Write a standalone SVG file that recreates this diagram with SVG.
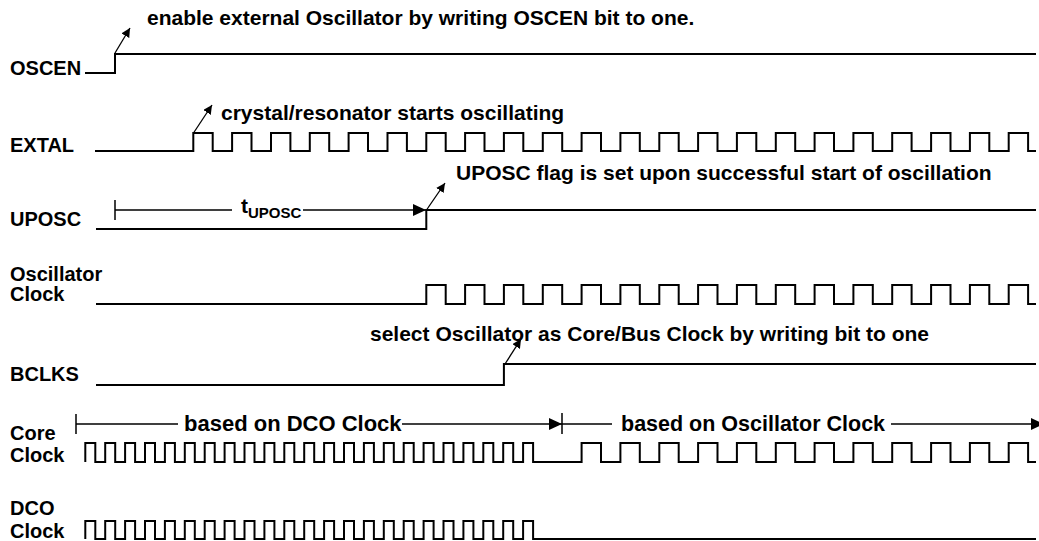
<svg xmlns="http://www.w3.org/2000/svg" width="1039" height="541" viewBox="0 0 1039 541">
<style>
text{font-family:"Liberation Sans",Arial,sans-serif;font-weight:bold;fill:#000}
.lbl{font-size:20px}
.ann{font-size:21px}
.sub{font-size:15px}
.wave{fill:none;stroke:#000;stroke-width:2}
.dim{fill:none;stroke:#000;stroke-width:1.5}
.call{fill:none;stroke:#000;stroke-width:1.3}
</style>
<defs>
<marker id="big" markerUnits="userSpaceOnUse" markerWidth="14" markerHeight="12" refX="13" refY="6" orient="auto">
<path d="M0,0 L13,6 L0,12 z" fill="#000"/>
</marker>
<marker id="small" markerUnits="userSpaceOnUse" markerWidth="10" markerHeight="9" refX="9" refY="4.5" orient="auto">
<path d="M0,0 L9,4.5 L0,9 z" fill="#000"/>
</marker>
</defs>
<g id="OSCEN">
<text class="lbl" x="10" y="75">OSCEN</text>
<path class="wave" d="M85,73 H115 V54 H1036"/>
</g>
<g id="EXTAL">
<text class="lbl" x="10" y="152">EXTAL</text>
<path class="wave" d="M95,151 H193.3 V133 H212.7 V151 H232.1 V133 H251.5 V151 H271 V133 H290.4 V151 H309.8 V133 H329.2 V151 H348.6 V133 H368 V151 H387.5 V133 H406.9 V151 H426.3 V133 H445.7 V151 H465.1 V133 H484.5 V151 H503.9 V133 H523.3 V151 H542.8 V133 H562.2 V151 H581.6 V133 H601 V151 H620.4 V133 H639.8 V151 H659.3 V133 H678.7 V151 H698.1 V133 H717.5 V151 H736.9 V133 H756.3 V151 H775.8 V133 H795.2 V151 H814.6 V133 H834 V151 H853.4 V133 H872.8 V151 H892.2 V133 H911.6 V151 H931.1 V133 H950.5 V151 H969.9 V133 H989.3 V151 H1008.7 V133 H1028.1 V151 H1036"/>
</g>
<g id="UPOSC">
<text class="lbl" x="10" y="226">UPOSC</text>
<path class="wave" d="M96,229 H426.3 V210 H1036"/>
</g>
<g id="OscillatorClock">
<text class="lbl" x="10" y="281">Oscillator</text>
<text class="lbl" x="10" y="301">Clock</text>
<path class="wave" d="M96,304 H426.3 V285 H445.7 V304 H465.1 V285 H484.5 V304 H503.9 V285 H523.3 V304 H542.8 V285 H562.2 V304 H581.6 V285 H601 V304 H620.4 V285 H639.8 V304 H659.3 V285 H678.7 V304 H698.1 V285 H717.5 V304 H736.9 V285 H756.3 V304 H775.8 V285 H795.2 V304 H814.6 V285 H834 V304 H853.4 V285 H872.8 V304 H892.2 V285 H911.6 V304 H931.1 V285 H950.5 V304 H969.9 V285 H989.3 V304 H1008.7 V285 H1028.1 V304 H1036"/>
</g>
<g id="BCLKS">
<text class="lbl" x="10" y="381">BCLKS</text>
<path class="wave" d="M96,385 H503.9 V364 H1036"/>
</g>
<g id="CoreClock">
<text class="lbl" x="10" y="440">Core</text>
<text class="lbl" x="10" y="462">Clock</text>
<path class="wave" d="M85.3,462 V443 H95.3 V462 H105.2 V443 H115.2 V462 H125.1 V443 H135.1 V462 H145 V443 H155 V462 H164.9 V443 H174.9 V462 H184.8 V443 H194.8 V462 H204.7 V443 H214.7 V462 H224.6 V443 H234.6 V462 H244.5 V443 H254.5 V462 H264.4 V443 H274.4 V462 H284.3 V443 H294.3 V462 H304.2 V443 H314.2 V462 H324.1 V443 H334.1 V462 H344 V443 H354 V462 H363.9 V443 H373.9 V462 H383.8 V443 H393.8 V462 H403.7 V443 H413.7 V462 H423.6 V443 H433.6 V462 H443.5 V443 H453.5 V462 H463.4 V443 H473.4 V462 H483.3 V443 H493.3 V462 H503.2 V443 H513.2 V462 H523.1 V443 H533.1 V462 H581.6 V443 H601 V462 H620.4 V443 H639.8 V462 H659.3 V443 H678.7 V462 H698.1 V443 H717.5 V462 H736.9 V443 H756.3 V462 H775.8 V443 H795.2 V462 H814.6 V443 H834 V462 H853.4 V443 H872.8 V462 H892.2 V443 H911.6 V462 H931.1 V443 H950.5 V462 H969.9 V443 H989.3 V462 H1008.7 V443 H1028.1 V462 H1036"/>
</g>
<g id="DCOClock">
<text class="lbl" x="10" y="515">DCO</text>
<text class="lbl" x="10" y="538">Clock</text>
<path class="wave" d="M85.3,539 V521 H95.3 V539 H105.2 V521 H115.2 V539 H125.1 V521 H135.1 V539 H145 V521 H155 V539 H164.9 V521 H174.9 V539 H184.8 V521 H194.8 V539 H204.7 V521 H214.7 V539 H224.6 V521 H234.6 V539 H244.5 V521 H254.5 V539 H264.4 V521 H274.4 V539 H284.3 V521 H294.3 V539 H304.2 V521 H314.2 V539 H324.1 V521 H334.1 V539 H344 V521 H354 V539 H363.9 V521 H373.9 V539 H383.8 V521 H393.8 V539 H403.7 V521 H413.7 V539 H423.6 V521 H433.6 V539 H443.5 V521 H453.5 V539 H463.4 V521 H473.4 V539 H483.3 V521 H493.3 V539 H503.2 V521 H513.2 V539 H523.1 V521 H533.1 V539 H1036"/>
</g>
<g id="annotations">
<text class="ann" x="147" y="25">enable external Oscillator by writing OSCEN bit to one.</text>
<text class="ann" x="221" y="120">crystal/resonator starts oscillating</text>
<text class="ann" x="456" y="180">UPOSC flag is set upon successful start of oscillation</text>
<text class="ann" x="370" y="341">select Oscillator as Core/Bus Clock by writing bit to one</text>
<text class="ann" x="241" y="213">t<tspan class="sub" dy="5">UPOSC</tspan></text>
<text class="ann" x="184" y="431" style="font-size:22px">based on DCO Clock</text>
<text class="ann" x="621" y="431" style="font-size:21.5px">based on Oscillator Clock</text>
</g>
<g id="connectors">
<line class="call" x1="115" y1="53" x2="130" y2="28" marker-end="url(#small)"/>
<line class="call" x1="193.5" y1="133" x2="212" y2="105" marker-end="url(#small)"/>
<line class="call" x1="426.5" y1="210" x2="445" y2="183" marker-end="url(#small)"/>
<line class="call" x1="505" y1="364" x2="521" y2="339" marker-end="url(#small)"/>
<path class="dim" d="M115,200 V220 M115,210 H232"/>
<line class="dim" x1="303" y1="210" x2="426" y2="210" marker-end="url(#big)"/>
<path class="dim" d="M76,414 V434 M76,424 H178"/>
<line class="dim" x1="402" y1="424" x2="562" y2="424" marker-end="url(#big)"/>
<path class="dim" d="M562,413 V434 M562,424 H612"/>
<line class="dim" x1="891" y1="424" x2="1044" y2="424" marker-end="url(#big)"/>
</g>
</svg>
